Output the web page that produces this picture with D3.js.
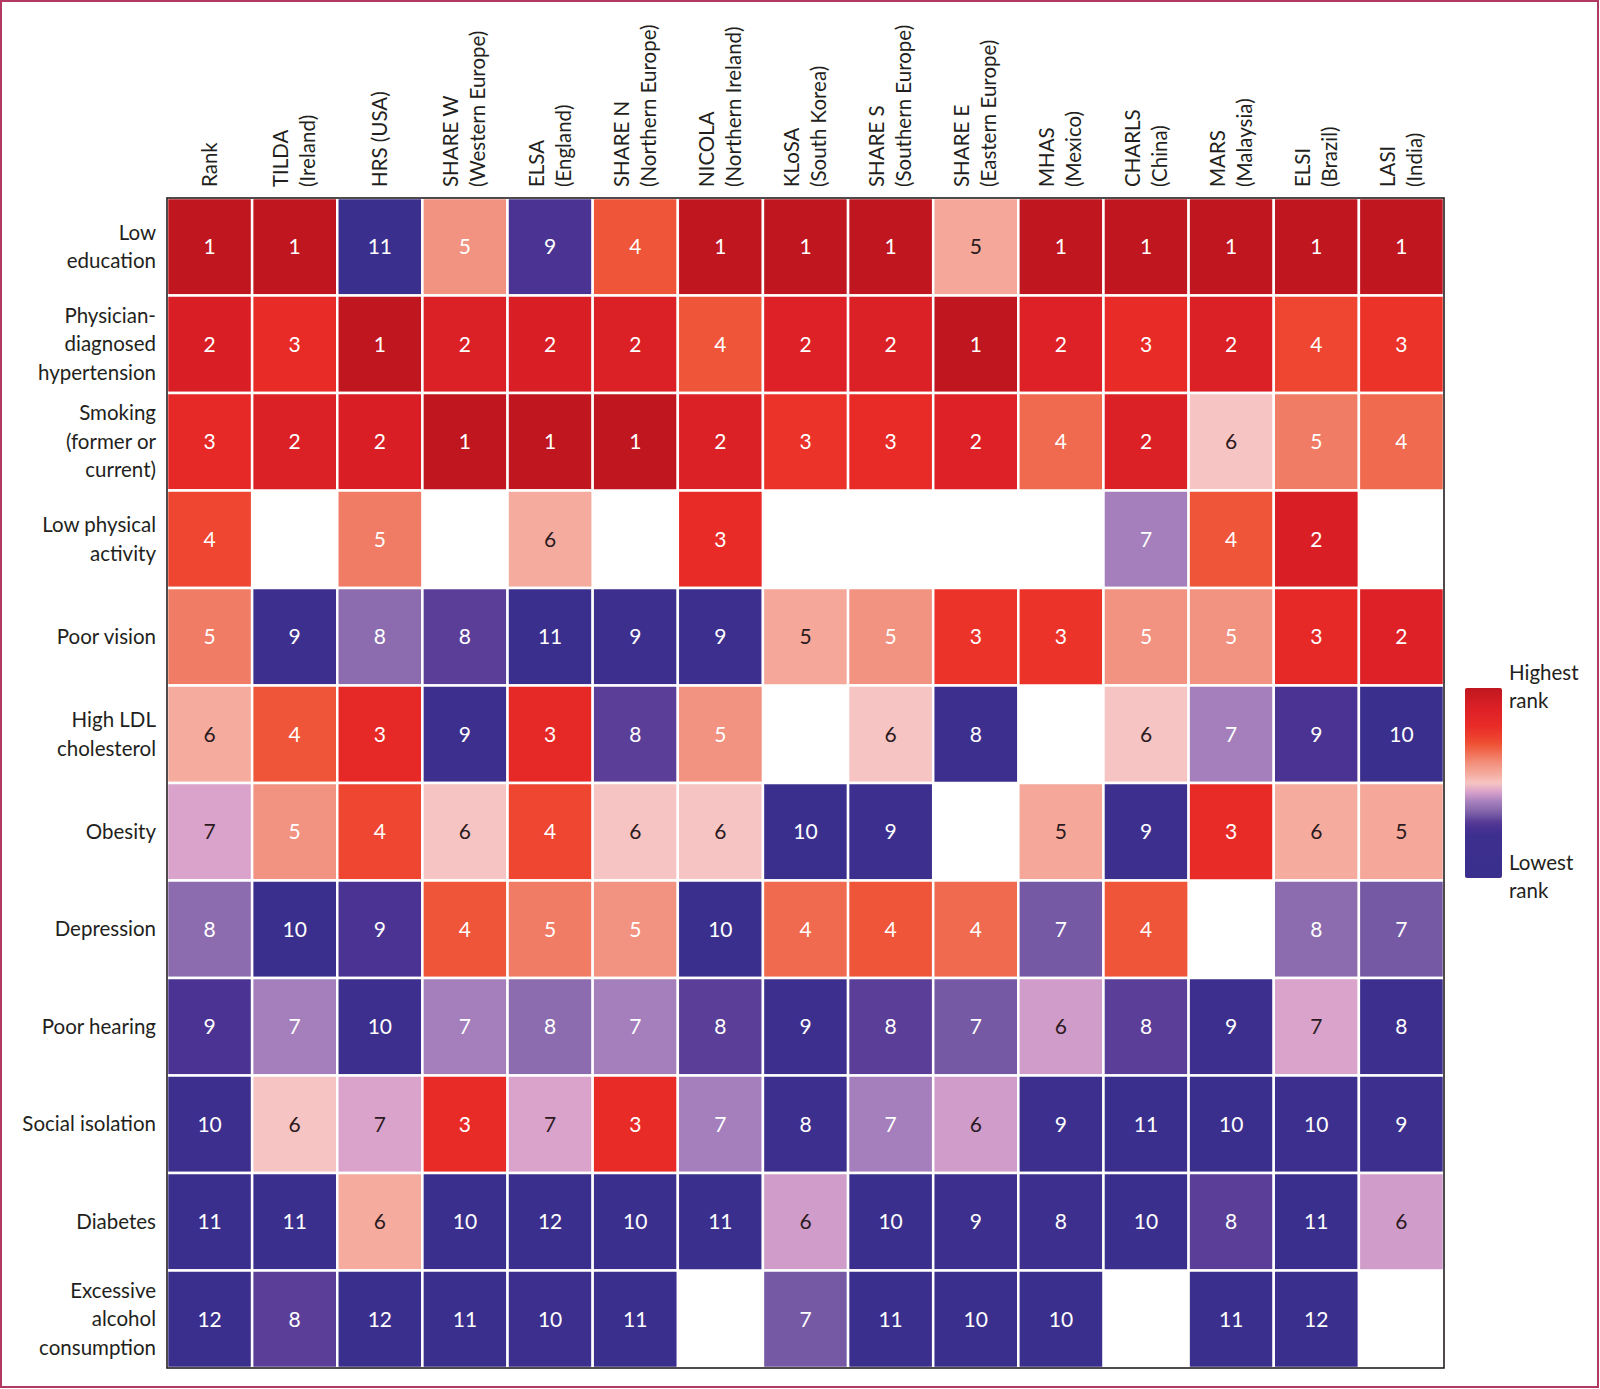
<!DOCTYPE html>
<html>
<head>
<meta charset="utf-8">
<script src="https://cdn.jsdelivr.net/npm/d3@7"></script>
<style>
  html, body { margin: 0; padding: 0; background: #fff; }
  svg { display: block; font-family: Lato, "Open Sans", sans-serif; }
</style>
</head>
<body>
<div id="chart"></div>
<script>
// columns (cohorts) and rows (risk factors)
const cohorts = ["Rank", "TILDA", "HRS", "SHARE W", "ELSA", "SHARE N", "NICOLA", "KLoSA",
  "SHARE S", "SHARE E", "MHAS", "CHARLS", "MARS", "ELSI", "LASI"];
const cohortLabels = [
  ["Rank"], ["TILDA", "(Ireland)"], ["HRS (USA)"], ["SHARE W", "(Western Europe)"],
  ["ELSA", "(England)"], ["SHARE N", "(Northern Europe)"], ["NICOLA", "(Northern Ireland)"],
  ["KLoSA", "(South Korea)"], ["SHARE S", "(Southern Europe)"], ["SHARE E", "(Eastern Europe)"],
  ["MHAS", "(Mexico)"], ["CHARLS", "(China)"], ["MARS", "(Malaysia)"], ["ELSI", "(Brazil)"],
  ["LASI", "(India)"]
];
const factors = ["Low education", "Physician-diagnosed hypertension", "Smoking (former or current)",
  "Low physical activity", "Poor vision", "High LDL cholesterol", "Obesity", "Depression",
  "Poor hearing", "Social isolation", "Diabetes", "Excessive alcohol consumption"];
const factorLabels = [
  ["Low", "education"], ["Physician-", "diagnosed", "hypertension"], ["Smoking", "(former or", "current)"],
  ["Low physical", "activity"], ["Poor vision"], ["High LDL", "cholesterol"], ["Obesity"],
  ["Depression"], ["Poor hearing"], ["Social isolation"], ["Diabetes"],
  ["Excessive", "alcohol", "consumption"]
];

// ranks, one array per factor, in cohort order (null = not measured)
const lowEducation   = [1, 1, 11, 5, 9, 4, 1, 1, 1, 5, 1, 1, 1, 1, 1];
const hypertension   = [2, 3, 1, 2, 2, 2, 4, 2, 2, 1, 2, 3, 2, 4, 3];
const smoking        = [3, 2, 2, 1, 1, 1, 2, 3, 3, 2, 4, 2, 6, 5, 4];
const physActivity   = [4, null, 5, null, 6, null, 3, null, null, null, null, 7, 4, 2, null];
const poorVision     = [5, 9, 8, 8, 11, 9, 9, 5, 5, 3, 3, 5, 5, 3, 2];
const highLDL        = [6, 4, 3, 9, 3, 8, 5, null, 6, 8, null, 6, 7, 9, 10];
const obesity        = [7, 5, 4, 6, 4, 6, 6, 10, 9, null, 5, 9, 3, 6, 5];
const depression     = [8, 10, 9, 4, 5, 5, 10, 4, 4, 4, 7, 4, null, 8, 7];
const poorHearing    = [9, 7, 10, 7, 8, 7, 8, 9, 8, 7, 6, 8, 9, 7, 8];
const socialIsolation = [10, 6, 7, 3, 7, 3, 7, 8, 7, 6, 9, 11, 10, 10, 9];
const diabetes       = [11, 11, 6, 10, 12, 10, 11, 6, 10, 9, 8, 10, 8, 11, 6];
const alcohol        = [12, 8, 12, 11, 10, 11, null, 7, 11, 10, 10, null, 11, 12, null];

const ranks = [lowEducation, hypertension, smoking, physActivity, poorVision, highLDL,
  obesity, depression, poorHearing, socialIsolation, diabetes, alcohol];

const width = 1600, height = 1389;
const margin = { left: 167, top: 198, right: 156, bottom: 21 };

const svg = d3.select("#chart").append("svg")
  .attr("width", width)
  .attr("height", height);

// page frame
svg.append("rect")
  .attr("x", 1).attr("y", 1)
  .attr("width", width - 3).attr("height", height - 3)
  .attr("fill", "none")
  .attr("stroke", "#b23a62")
  .attr("stroke-width", 2);

const x = d3.scaleBand().domain(cohorts).range([margin.left, width - margin.right]);
const y = d3.scaleBand().domain(factors).range([margin.top, height - margin.bottom]);

// colour by relative position within each cohort's ranking (0 = highest rank)
const color = d3.scaleLinear()
  .domain([0, 0.1, 0.2, 0.27, 0.3, 0.36, 0.4, 0.45, 0.5, 0.55, 0.6, 0.64, 0.67, 0.7, 0.73, 0.78, 1])
  .range(["#c0161f", "#db2026", "#e92b27", "#ee4530", "#ef5538", "#f17a62", "#f29280", "#f5aa9c",
    "#f6c4c2", "#d6a0cc", "#a47fbc", "#8a6aad", "#7257a4", "#5a3e98", "#4a3292", "#3c2f8e", "#3b2f8e"])
  .clamp(true);

const cells = [];
cohorts.forEach((c, j) => {
  const col = ranks.map(r => r[j]).filter(v => v != null);
  const n = col.length;
  ranks.forEach((r, i) => {
    if (r[j] == null) return;
    cells.push({ cohort: c, factor: factors[i], rank: r[j], t: (r[j] - 1) / (n - 1) });
  });
});

const grid = svg.append("g");

grid.selectAll("rect.cell")
  .data(cells)
  .join("rect")
  .attr("class", "cell")
  .attr("x", d => x(d.cohort))
  .attr("y", d => y(d.factor))
  .attr("width", x.bandwidth())
  .attr("height", y.bandwidth())
  .attr("fill", d => color(d.t))
  .attr("stroke", "#fff")
  .attr("stroke-width", 2.5);

grid.selectAll("text.val")
  .data(cells)
  .join("text")
  .attr("class", "val")
  .attr("x", d => x(d.cohort) + x.bandwidth() / 2)
  .attr("y", d => y(d.factor) + y.bandwidth() / 2)
  .attr("dy", "0.35em")
  .attr("text-anchor", "middle")
  .attr("font-size", 21)
  .attr("fill", d => (d.t >= 0.42 && d.t <= 0.56) ? "#2b1a1e" : "#fff")
  .text(d => d.rank);

// outer border of the grid
svg.append("rect")
  .attr("x", margin.left).attr("y", margin.top)
  .attr("width", width - margin.right - margin.left)
  .attr("height", height - margin.bottom - margin.top)
  .attr("fill", "none")
  .attr("stroke", "#231f20")
  .attr("stroke-width", 1.6);

// column labels, rotated
const lineGap = 27;
const colLab = svg.append("g").attr("font-size", 20.5).attr("fill", "#231f20");
cohorts.forEach((c, j) => {
  const lines = cohortLabels[j];
  const cx = x(c) + x.bandwidth() / 2;
  const off = -(lines.length - 1) * lineGap / 2;
  lines.forEach((line, k) => {
    colLab.append("text")
      .attr("transform", `translate(${cx + off + k * lineGap + 7},187) rotate(-90)`)
      .text(line);
  });
});

// row labels
const rowLab = svg.append("g").attr("font-size", 20.5).attr("fill", "#231f20").attr("text-anchor", "end");
factors.forEach((f, i) => {
  const lines = factorLabels[i];
  const cy = y(f) + y.bandwidth() / 2;
  const gap = 28.5;
  const off = -(lines.length - 1) * gap / 2;
  lines.forEach((line, k) => {
    rowLab.append("text")
      .attr("x", 156)
      .attr("y", cy + off + k * gap)
      .attr("dy", "0.35em")
      .text(line);
  });
});

// legend
const defs = svg.append("defs");
const grad = defs.append("linearGradient")
  .attr("id", "rankGrad")
  .attr("x1", 0).attr("y1", 0).attr("x2", 0).attr("y2", 1);
d3.range(0, 1.0001, 0.02).forEach(t => {
  grad.append("stop").attr("offset", t).attr("stop-color", color(t));
});
svg.append("rect")
  .attr("x", 1465).attr("y", 688)
  .attr("width", 37).attr("height", 190)
  .attr("rx", 2)
  .attr("fill", "url(#rankGrad)");

const legLab = svg.append("g").attr("font-size", 20.5).attr("fill", "#231f20");
[["Highest", 680], ["rank", 708], ["Lowest", 870], ["rank", 898]].forEach(([t, yy]) => {
  legLab.append("text").attr("x", 1509).attr("y", yy).text(t);
});
</script>
</body>
</html>
